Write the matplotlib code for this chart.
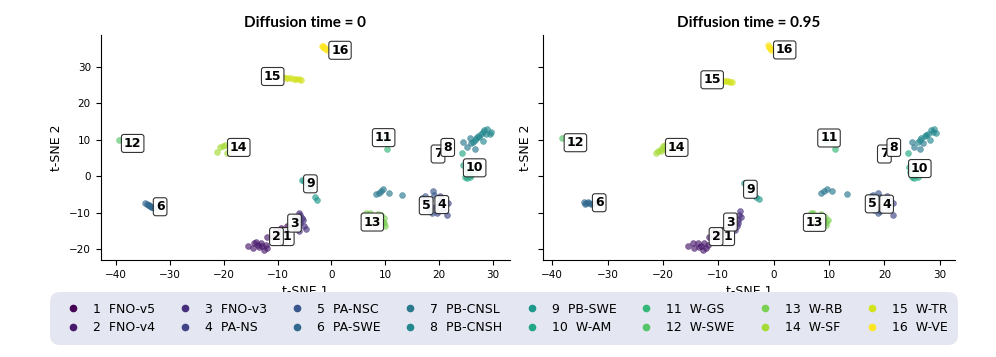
import numpy as np
import matplotlib.pyplot as plt
from matplotlib.lines import Line2D

names = ["FNO-v5", "FNO-v4", "FNO-v3", "PA-NS", "PA-NSC", "PA-SWE", "PB-CNSL", "PB-CNSH",
         "PB-SWE", "W-AM", "W-GS", "W-SWE", "W-RB", "W-SF", "W-TR", "W-VE"]
titles = ["Diffusion time = 0", "Diffusion time = 0.95"]

# t-SNE embeddings, diffusion time = 0
t0_x = {
    1: [-10.3, -9.4, -8.8, -8.2, -9.7, -10.9, -9.0, -8.5],
    2: [-15.5, -14.6, -14.3, -13.7, -13.1, -12.8, -12.5, -11.9, -12.2, -11.9, -13.4, -14.0],
    3: [-6.1, -5.75, -5.45, -6.4, -5.1, -4.8, -6.7, -5.75, -7.0, -6.1, -5.3],
    4: [20.2, 20.5, 21.6, 21.4, 19.6, 19.3, 20.8, 20.0],
    5: [16.8, 17.4, 18.8, 19.1, 18.7, 18.1, 17.6, 18.4],
    6: [-34.6, -34.2, -33.9, -33.6, -33.3, -33.0, -33.5, -34.0],
    7: [8.3, 8.8, 9.2, 9.6, 10.7, 13.2, 24.5, 25.1, 26.0, 26.6, 25.7],
    8: [26.9, 27.2, 27.8, 28.1, 28.4, 28.9, 29.4, 29.7, 27.5, 26.3, 26.6, 28.1, 28.7],
    9: [-5.45, -5.0, -4.5, -4.0, -3.0, -2.6],
    10: [24.2, 24.5, 24.8, 25.1, 25.7, 25.4, 25.1, 26.0, 26.5],
    11: [10.4, 9.5, 10.0, 9.0, 10.5],
    12: [-39.4, -38.0, -37.2, -36.5],
    13: [6.5, 7.1, 8.6, 9.2, 9.8, 9.8, 10.0, 9.5, 8.0, 7.5],
    14: [-21.3, -20.7, -20.1, -19.7, -19.4, -18.9, -18.0, -17.0, -16.2],
    15: [-9.0, -8.5, -8.0, -7.5, -7.0, -6.5, -6.0, -5.6],
    16: [-1.8, -1.5, -1.2, -1.0, -1.6, -1.3, -0.9],
}
t0_y = {
    1: [-14.7, -14.3, -15.7, -13.8, -16.1, -16.6, -15.0, -14.9],
    2: [-19.3, -19.8, -18.4, -18.9, -18.4, -19.3, -20.2, -19.8, -18.9, -16.6, -19.5, -18.0],
    3: [-10.2, -10.6, -11.5, -12.5, -13.8, -14.6, -11.1, -12.9, -14.3, -15.2, -12.0],
    4: [-5.4, -6.5, -7.4, -10.8, -10.0, -8.4, -9.0, -7.0],
    5: [-6.1, -5.4, -4.2, -5.2, -10.2, -9.3, -8.0, -6.5],
    6: [-7.5, -7.7, -8.0, -8.2, -8.5, -8.7, -8.4, -7.9],
    7: [-4.9, -4.5, -4.2, -3.6, -4.5, -5.1, 9.45, 7.9, 9.0, 7.6, 10.4],
    8: [10.4, 11.0, 11.7, 9.7, 12.6, 13.1, 11.7, 12.2, 10.9, 9.45, 9.9, 12.2, 11.6],
    9: [-1.05, -1.2, -2.2, -3.2, -5.8, -6.5],
    10: [6.25, 3.05, -0.1, -0.6, -0.1, 0.8, 2.1, 0.3, 1.5],
    11: [7.35, 10.2, 9.8, 10.6, 11.0],
    12: [10.0, 9.5, 9.2, 9.0],
    13: [-10.0, -10.0, -10.4, -10.6, -11.6, -12.9, -13.7, -12.5, -12.0, -12.8],
    14: [6.7, 7.9, 8.3, 8.5, 6.4, 7.0, 7.5, 8.0, 8.2],
    15: [27.2, 27.1, 27.0, 26.9, 26.8, 26.7, 26.6, 26.5],
    16: [35.9, 35.5, 35.2, 34.9, 35.7, 35.3, 34.8],
}

# diffusion time = 0.95
t1_x = {
    1: [-9.75, -10.7, -8.8, -10.4, -9.2],
    2: [-15.4, -14.6, -14.3, -13.7, -13.1, -12.8, -12.2, -11.9, -12.5, -11.6, -13.5],
    3: [-6.1, -6.2, -6.4, -6.7, -7.0, -5.9, -6.5],
    4: [20.4, 20.9, 21.5, 21.6, 19.3, 19.0, 20.6],
    5: [17.5, 18.0, 18.8, 19.3, 18.8, 18.1, 17.8],
    6: [-34.2, -33.8, -33.4, -33.0, -32.6, -32.2, -33.5, -34.0],
    7: [8.6, 9.05, 9.7, 10.6, 13.2, 25.0, 25.3, 26.4, 27.0],
    8: [26.1, 26.7, 27.3, 27.9, 28.2, 28.5, 29.0, 29.4, 27.6, 28.8, 26.4],
    9: [-5.3, -4.6, -3.2, -2.7],
    10: [24.2, 24.4, 24.9, 25.4, 26.0, 24.6, 25.8],
    11: [11.1, 10.0, 9.5, 10.5],
    12: [-38.3, -37.0, -36.2],
    13: [6.7, 7.1, 8.6, 9.2, 9.5, 9.8, 9.4, 8.0, 7.4],
    14: [-21.2, -20.8, -20.4, -20.0, -19.6, -20.3, -19.5, -18.5, -17.5],
    15: [-9.0, -8.6, -8.2, -7.9, -7.6],
    16: [-1.1, -0.9, -0.7, -0.5, -0.4, -0.8],
}
t1_y = {
    1: [-15.7, -15.2, -14.7, -16.6, -15.5],
    2: [-19.3, -18.4, -19.8, -18.4, -19.1, -20.2, -19.8, -18.9, -18.4, -16.6, -19.6],
    3: [-9.7, -10.6, -12.0, -13.8, -14.7, -11.1, -12.8],
    4: [-5.4, -6.3, -7.4, -10.8, -9.7, -8.4, -8.5],
    5: [-5.4, -5.2, -4.5, -5.6, -10.0, -9.3, -7.0],
    6: [-7.0, -7.3, -7.5, -7.6, -7.6, -7.4, -7.1, -7.6],
    7: [-4.7, -4.2, -3.6, -4.2, -5.0, 9.45, 7.9, 7.6, 9.0],
    8: [9.45, 10.4, 11.0, 11.7, 9.9, 12.6, 13.1, 11.9, 11.3, 12.2, 9.9],
    9: [-2.0, -3.5, -5.8, -6.3],
    10: [6.25, 2.6, -0.1, -0.6, -0.1, 1.2, 1.8],
    11: [7.35, 10.4, 10.0, 10.8],
    12: [10.4, 9.6, 9.2],
    13: [-10.0, -10.2, -10.4, -11.1, -12.5, -12.0, -13.4, -12.5, -12.8],
    14: [6.5, 7.0, 7.6, 8.2, 8.5, 6.8, 7.3, 7.6, 7.9],
    15: [26.2, 26.1, 26.1, 26.0, 26.0],
    16: [36.0, 35.6, 35.3, 35.0, 34.7, 35.5],
}

# where the number tags sit (annotation layout)
tags_t0 = {1: (-8.2, -16.6), 2: (-10.2, -16.6), 3: (-6.85, -12.9), 4: (20.5, -7.8),
           5: (17.6, -8.1), 6: (-31.8, -8.4), 7: (19.8, 6.1), 8: (21.6, 7.9),
           9: (-3.9, -2.1), 10: (26.6, 2.3), 11: (9.7, 10.6), 12: (-36.9, 9.0),
           13: (7.6, -12.6), 14: (-17.2, 7.9), 15: (-10.9, 27.4), 16: (1.6, 34.6)}
tags_t1 = {1: (-8.3, -16.6), 2: (-10.4, -16.6), 3: (-7.8, -12.6), 4: (20.4, -7.7),
           5: (17.8, -7.6), 6: (-31.5, -7.3), 7: (20.0, 6.1), 8: (21.7, 7.9),
           9: (-4.2, -3.6), 10: (26.4, 2.1), 11: (10.0, 10.5), 12: (-35.8, 9.2),
           13: (7.4, -12.7), 14: (-17.5, 7.9), 15: (-11.1, 26.5), 16: (2.0, 34.7)}

colors = plt.cm.viridis(np.linspace(0, 1, len(names)))

fig = plt.figure(figsize=(9.96, 3.57), dpi=100)
ax1 = fig.add_axes([0.101, 0.272, 0.411, 0.630])
ax2 = fig.add_axes([0.545, 0.272, 0.414, 0.630], sharey=ax1)

panels = [(ax1, t0_x, t0_y, tags_t0), (ax2, t1_x, t1_y, tags_t1)]
for k, (ax, xs, ys, tags) in enumerate(panels):
    for i in range(1, len(names) + 1):
        ax.scatter(xs[i], ys[i], s=18, color=colors[i - 1], alpha=0.65,
                   linewidths=0.4, zorder=2)
    for i in range(1, len(names) + 1):
        tx, ty = tags[i]
        ax.text(tx, ty, str(i), ha='center', va='center', fontsize=9,
                fontweight='bold', zorder=5,
                bbox=dict(boxstyle='round,pad=0.2', fc='white', ec='#222222',
                          lw=0.8, alpha=0.92))
    ax.set_title(titles[k], fontsize=11, fontweight='bold', family='Lato')
    ax.set_xlabel('t-SNE 1', fontsize=9)
    ax.set_ylabel('t-SNE 2', fontsize=9)
    ax.tick_params(labelsize=7.5)
    ax.spines['top'].set_visible(False)
    ax.spines['right'].set_visible(False)
    ax.set_xticks([-40, -30, -20, -10, 0, 10, 20, 30])

ax2.tick_params(labelleft=False)

handles = [Line2D([], [], marker='o', linestyle='none', markersize=4.5,
                  color=colors[i]) for i in range(len(names))]
labels = [f"{i + 1}  {n}" for i, n in enumerate(names)]
leg = fig.legend(handles, labels, loc='lower left', ncol=8, mode='expand',
                 bbox_to_anchor=(0.05, 0.034, 0.912, 0.145), borderaxespad=0,
                 fontsize=9, facecolor='#e4e6f1', edgecolor='none', framealpha=1,
                 fancybox=True, handletextpad=0.6, labelspacing=0.45,
                 borderpad=0.85)
leg.get_frame().set_boxstyle('round,pad=0,rounding_size=0.8')

plt.savefig('out.png', dpi=100)
